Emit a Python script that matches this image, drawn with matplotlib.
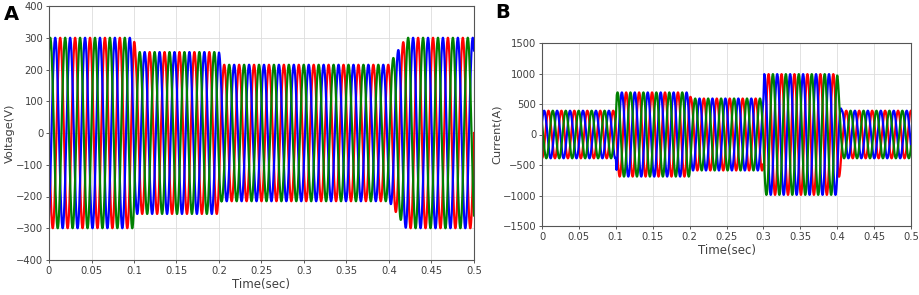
import numpy as np
import matplotlib.pyplot as plt

# segment boundaries (s) and peak amplitudes
seg_edges = [0.0, 0.1, 0.2, 0.4, 0.5]
volt_amp = [300, 255, 215, 300]
volt_ramp = [0.002, 0.003, 0.02]   # transition time at each inner edge
curr_edges = [0.0, 0.1, 0.2, 0.3, 0.4, 0.5]
curr_amp = [390, 690, 590, 990, 390]
curr_ramp = [0.001, 0.002, 0.001, 0.006]
freq = 57.0  # Hz, ~5.7 cycles per 0.1 s

phase_colors = ['#ff0000', '#0000ff', '#008000']
volt_phase0 = [np.pi, 5 * np.pi / 3, np.pi / 3]
curr_phase0 = [-np.pi / 2, np.pi / 6, 5 * np.pi / 6]

xticks = [0, 0.05, 0.1, 0.15, 0.2, 0.25, 0.3, 0.35, 0.4, 0.45, 0.5]
xticklabels = ['0', '0.05', '0.1', '0.15', '0.2', '0.25', '0.3', '0.35', '0.4', '0.45', '0.5']

t = np.linspace(0, 0.5, 8000)


def envelope(edges, amps, ramps):
    env = np.full_like(t, float(amps[0]))
    for i in range(1, len(amps)):
        e, r = edges[i], ramps[i - 1]
        frac = np.clip((t - e) / r, 0, 1)
        env = env + frac * (amps[i] - amps[i - 1])
    return env


v_env = envelope(seg_edges, volt_amp, volt_ramp)
c_env = envelope(curr_edges, curr_amp, curr_ramp)

text_col = '#404040'
plt.rcParams['font.family'] = 'DejaVu Sans'
fig = plt.figure(figsize=(9.2, 2.95), dpi=100)

axA = fig.add_axes([49 / 920, 1 - 260 / 295, (474 - 49) / 920, (260 - 6) / 295])
axB = fig.add_axes([542 / 920, 1 - 226 / 295, (911 - 542) / 920, (226 - 43) / 295])

for ax, env, ph0, ylim, yticks in [
    (axA, v_env, volt_phase0, (-400, 400), np.arange(-400, 401, 100)),
    (axB, c_env, curr_phase0, (-1500, 1500), np.arange(-1500, 1501, 500)),
]:
    for c, p in zip(phase_colors, ph0):
        ax.plot(t, env * np.sin(2 * np.pi * freq * t + p), color=c, lw=1.6)
    ax.set_xlim(0, 0.5)
    ax.set_ylim(*ylim)
    ax.set_xticks(xticks)
    ax.set_xticklabels(xticklabels)
    ax.set_yticks(yticks)
    ax.grid(True, color='#dddddd', lw=0.6)
    ax.set_axisbelow(True)
    ax.tick_params(labelsize=7.2, colors=text_col, length=2, width=0.6, pad=2)
    for s in ax.spines.values():
        s.set_color('#555555')
        s.set_linewidth(0.8)
    ax.set_xlabel('Time(sec)', fontsize=8.5, color=text_col, labelpad=2)

axA.set_ylabel('Voltage(V)', fontsize=8.2, color=text_col, labelpad=1)
axB.set_ylabel('Current(A)', fontsize=8.2, color=text_col, labelpad=1)

fig.text(4 / 920, 1 - 14 / 295, 'A', fontsize=14, fontweight='bold', va='center')
fig.text(495 / 920, 1 - 12 / 295, 'B', fontsize=14, fontweight='bold', va='center')

fig.savefig('out.png', dpi=100)
